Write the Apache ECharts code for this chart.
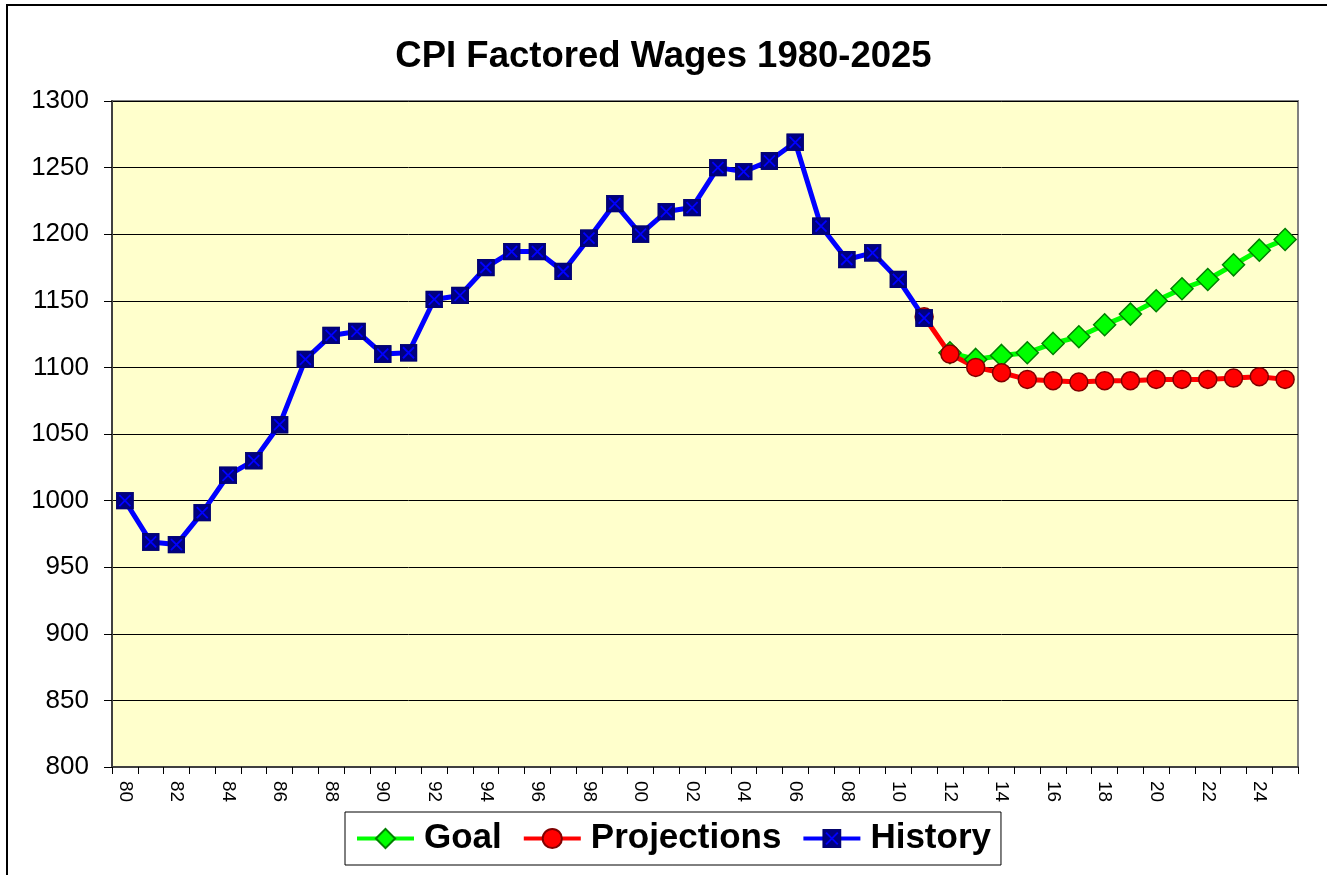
<!DOCTYPE html>
<html>
<head>
<meta charset="utf-8">
<script src="https://cdn.jsdelivr.net/npm/echarts@6/dist/echarts.min.js"></script>
<style>
html,body{margin:0;padding:0;background:#fff;}
#c{width:1327px;height:875px;}
</style>
</head>
<body>
<div id="c"></div>
<script>
const years = ['80','81','82','83','84','85','86','87','88','89','90','91','92','93','94','95','96','97','98','99','00','01','02','03','04','05','06','07','08','09','10','11','12','13','14','15','16','17','18','19','20','21','22','23','24','25'];
const history = [1000,969,967,991,1019,1030,1057,1106,1124,1127,1110,1111,1151,1154,1175,1187,1187,1172,1197,1223,1200,1217,1220,1250,1247,1255,1269,1206,1181,1186,1166,1137,
  null,null,null,null,null,null,null,null,null,null,null,null,null,null];
const projections = [null,null,null,null,null,null,null,null,null,null,null,null,null,null,null,null,null,null,null,null,null,null,null,null,null,null,null,null,null,null,null,
  1138,1110,1100,1096,1091,1090,1089,1090,1090,1091,1091,1091,1092,1093,1091];
const goal = [null,null,null,null,null,null,null,null,null,null,null,null,null,null,null,null,null,null,null,null,null,null,null,null,null,null,null,null,null,null,null,
  null,1111,1106,1109,1111,1118,1123,1132,1140,1150,1159,1166,1177,1188,1196];
const yMin = 800, yMax = 1300, yStep = 50;

const histSvg = "<svg xmlns='http://www.w3.org/2000/svg' width='18' height='18'><rect x='0.5' y='0.5' width='17' height='17' fill='#000080' stroke='#00006a'/><path d='M3.5 3.5L14.5 14.5M14.5 3.5L3.5 14.5' stroke='#0000ff' stroke-width='1.8'/></svg>";
const histSymbol = 'image://data:image/svg+xml;charset=utf-8,' + encodeURIComponent(histSvg);
const FONT = 'Liberation Sans, Arial, sans-serif';

const chart = echarts.init(document.getElementById('c'));
chart.setOption({
  animation: false,
  backgroundColor: '#ffffff',
  graphic: [{
    type: 'rect', z: -10, silent: true,
    shape: {x: 7, y: 5, width: 1400, height: 1000},
    style: {fill: 'none', stroke: '#000', lineWidth: 2}
  }],
  title: {
    text: 'CPI Factored Wages 1980-2025',
    left: 'center', top: 33,
    textStyle: {fontFamily: FONT, fontWeight: 'bold', fontSize: 36.5, color: '#000'}
  },
  legend: {
    left: 345, top: 812,
    padding: [9, 10, 9, 10],
    itemGap: 20,
    itemWidth: 57, itemHeight: 24,
    backgroundColor: '#fff',
    borderColor: '#000', borderWidth: 1,
    lineStyle: {width: 4},
    textStyle: {fontFamily: FONT, fontWeight: 'bold', fontSize: 35, color: '#000', padding: [0,0,0,5]},
    data: ['Goal', 'Projections', 'History']
  },
  grid: {
    left: 112, top: 101, right: 29, bottom: 108,
    show: true, backgroundColor: '#FFFFCC', borderColor: '#808080', borderWidth: 2
  },
  xAxis: {
    type: 'category', data: years, boundaryGap: true,
    axisLine: {lineStyle: {color: '#404040', width: 2}},
    axisTick: {show: true, interval: 0, length: 7, lineStyle: {color: '#000', width: 1}},
    axisLabel: {interval: 1, rotate: -90, fontFamily: FONT, fontSize: 19, color: '#000', margin: 14}
  },
  yAxis: {
    type: 'value', min: yMin, max: yMax, interval: yStep,
    axisLine: {show: true, lineStyle: {color: '#404040', width: 2}},
    axisTick: {show: true, length: 8, lineStyle: {color: '#000'}},
    axisLabel: {fontFamily: FONT, fontSize: 26, color: '#000', margin: 23, formatter: v => String(v)},
    splitLine: {lineStyle: {color: '#000', width: 1}}
  },
  series: [
    {
      name: 'Goal', type: 'line', data: goal, showAllSymbol: true,
      symbol: 'diamond', symbolSize: 22,
      lineStyle: {color: '#00FF00', width: 5},
      itemStyle: {color: '#00FF00', borderColor: '#008000', borderWidth: 1.5}
    },
    {
      name: 'Projections', type: 'line', data: projections, showAllSymbol: true,
      symbol: 'circle', symbolSize: 18,
      lineStyle: {color: '#FF0000', width: 5},
      itemStyle: {color: '#FF0000', borderColor: '#800000', borderWidth: 1.5}
    },
    {
      name: 'History', type: 'line', data: history, showAllSymbol: true,
      symbol: histSymbol, symbolSize: 18,
      lineStyle: {color: '#0000FF', width: 5},
      itemStyle: {color: '#0000FF'}
    }
  ]
});
</script>
</body>
</html>
